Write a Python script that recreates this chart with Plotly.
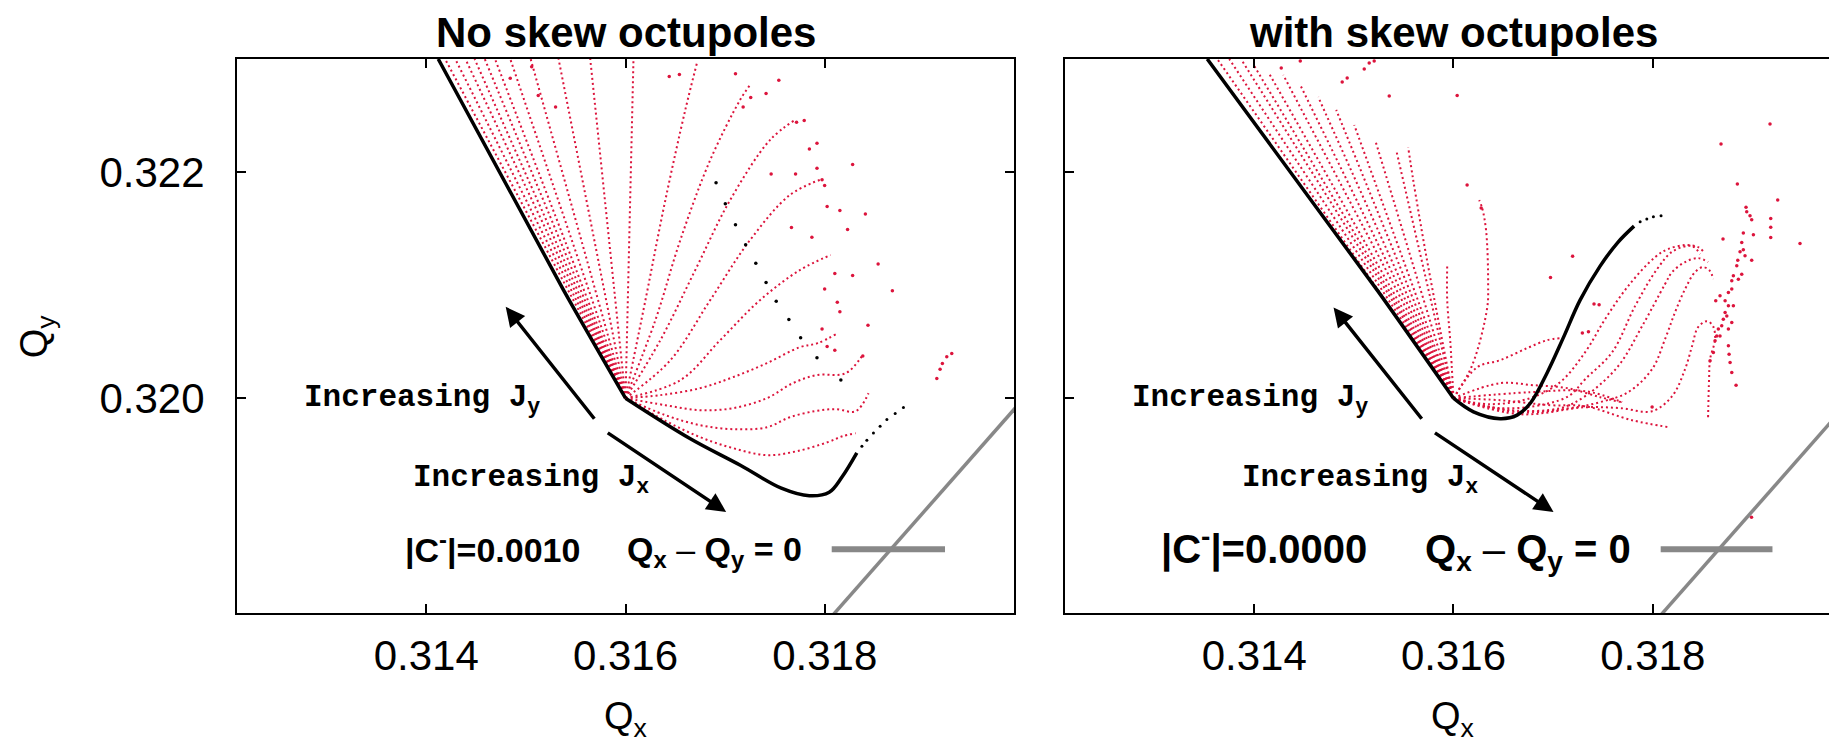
import plotly.graph_objects as go

# ---------------------------------------------------------------- data
RED = "#dc143c"
GRAY = "#888888"
CX, CY = 0.316, 0.320          # common origin of the footprint lines

x_ticks = [0.314, 0.316, 0.318]
y_ticks = [0.320, 0.322]
x_range = [0.3121, 0.3199]
x2_range = [0.3121, 0.31977]
y_range = [0.3181, 0.3230]

# resonance line Qx - Qy = 0
res_qx = [0.3180, 0.3206]
res_qy = [0.3180, 0.3206]

# ---- left panel: "No skew octupoles"
left_black_up_x = [0.31412, 0.315378, 0.316]
left_black_up_y = [0.3230, 0.320956, 0.320]
left_black_low_x = [0.316, 0.316642, 0.317153, 0.317564, 0.317845, 0.318045, 0.318175, 0.318322]
left_black_low_y = [0.320, 0.319646, 0.319407, 0.319204, 0.319137, 0.319168, 0.319305, 0.319516]
left_black_tail_x = [0.318373, 0.318423, 0.318489, 0.318556, 0.318624, 0.318707, 0.318790]
left_black_tail_y = [0.319575, 0.319628, 0.319693, 0.319752, 0.319812, 0.319865, 0.319918]
left_black_dots_x = [0.316909, 0.317002, 0.317104, 0.317206, 0.317308, 0.317411, 0.317513, 0.317640, 0.317758, 0.317922, 0.318162]
left_black_dots_y = [0.321905, 0.321719, 0.321535, 0.321357, 0.321194, 0.321024, 0.320858, 0.320696, 0.320534, 0.320358, 0.320161]

left_fan_end_x = [0.314189, 0.314291, 0.314393, 0.314485, 0.314587, 0.314690, 0.314843, 0.315048, 0.315328, 0.315646, 0.31608]
left_fan_end_y = [0.3230] * 11

left_curves_x = [
    [CX, 0.31620, 0.31640, 0.31660, 0.31672],
    [CX, 0.31630, 0.31655, 0.31685, 0.31715, 0.31725],
    [CX, 0.31635, 0.31670, 0.31705, 0.31745, 0.31770],
    [CX, 0.31645, 0.31685, 0.31725, 0.31765, 0.31795],
    [CX, 0.31655, 0.31695, 0.31735, 0.31775, 0.31806],
    [CX, 0.31635, 0.31675, 0.31708, 0.31742, 0.31775, 0.31793, 0.31813],
    [CX, 0.31640, 0.31675, 0.31708, 0.31742, 0.31768, 0.31792, 0.31821, 0.31838],
    [CX, 0.31640, 0.31675, 0.31708, 0.31742, 0.31765, 0.31790, 0.31811, 0.31831, 0.31844],
    [CX, 0.31640, 0.31675, 0.31708, 0.31742, 0.31772, 0.31803, 0.31818, 0.31831],
]
left_curves_y = [
    [CY, 0.320867, 0.321752, 0.322549, 0.322974],
    [CY, 0.32069, 0.321398, 0.322106, 0.322637, 0.32277],
    [CY, 0.320513, 0.321133, 0.321752, 0.322283, 0.32246],
    [CY, 0.320336, 0.320867, 0.321398, 0.321797, 0.32193],
    [CY, 0.320159, 0.320513, 0.320867, 0.321133, 0.321266],
    [CY, 0.320027, 0.320089, 0.320186, 0.32031, 0.320451, 0.320487, 0.320575],
    [CY, 0.319938, 0.319894, 0.319912, 0.320, 0.320133, 0.320204, 0.320221, 0.32038],
    [CY, 0.31985, 0.319761, 0.319726, 0.319743, 0.319832, 0.319885, 0.319903, 0.319885, 0.320044],
    [CY, 0.319800, 0.319655, 0.319558, 0.319496, 0.319531, 0.319611, 0.319664, 0.31969],
]

left_dots_x = [0.317104, 0.317539, 0.317411, 0.317257, 0.317181, 0.317462, 0.317707, 0.317922, 0.317973,
               0.317999, 0.318280, 0.317717, 0.317794, 0.317846, 0.317922, 0.318024, 0.318152, 0.318408,
               0.317666, 0.317871, 0.318229, 0.318536, 0.318101, 0.318280, 0.318679, 0.317999, 0.318126,
               0.318152, 0.318434, 0.317973, 0.318024, 0.318101, 0.318382, 0.314843, 0.315058, 0.315124,
               0.315298, 0.316439, 0.316541,
               0.319125, 0.319158, 0.319181, 0.319225, 0.319275]
left_dots_y = [0.322870, 0.322813, 0.322694, 0.322660, 0.322575, 0.321982, 0.321982, 0.322034, 0.321932,
               0.321882, 0.322067, 0.322440, 0.322457, 0.322203, 0.322254, 0.321695, 0.321661, 0.321628,
               0.321509, 0.321424, 0.321492, 0.321187, 0.321103, 0.321085, 0.320950, 0.320966, 0.320849,
               0.320764, 0.320645, 0.320612, 0.320458, 0.320425, 0.320374, 0.322829, 0.322931, 0.322677,
               0.322575, 0.322846, 0.322864,
               0.320174, 0.320257, 0.320307, 0.320366, 0.320396]

# ---- right panel: "with skew octupoles"
right_black_up_x = [0.313528, 0.315234, 0.316]
right_black_up_y = [0.3230, 0.320956, 0.320]
right_black_low_x = [0.316, 0.316201, 0.316469, 0.316639, 0.316775, 0.316937, 0.317101, 0.317271,
                     0.317472, 0.317653, 0.317813]
right_black_low_y = [0.320, 0.319879, 0.319819, 0.319850, 0.319960, 0.320219, 0.320531, 0.320867,
                     0.321168, 0.321381, 0.321522]
right_black_tail_x = [0.317874, 0.317941, 0.318007, 0.318084]
right_black_tail_y = [0.321560, 0.321584, 0.321604, 0.321613]

right_fan_end_x = [0.313629, 0.313749, 0.313880, 0.314000, 0.314141, 0.314291, 0.314462, 0.314642,
                   0.314823, 0.315004, 0.315214, 0.315425]
right_fan_end_y = [0.323000, 0.323000, 0.322982, 0.322938, 0.322885, 0.322859, 0.322770, 0.322664,
                   0.322549, 0.322416, 0.322283, 0.322195]

right_curves_x = [
    [CX, 0.315867, 0.315716, 0.315596, 0.315545],
    [CX, 0.315967, 0.315937, 0.315937],
    [CX, 0.316188, 0.316338, 0.316348, 0.316328, 0.316288, 0.316258],
    [CX, 0.316238, 0.316469, 0.316740, 0.316940, 0.317071],
    [CX, 0.316469, 0.316800, 0.317141, 0.317472, 0.317683],
    [CX, 0.316469, 0.316970, 0.317322, 0.317793, 0.318165],
    [CX, 0.316770, 0.317322, 0.317693],
    [CX, 0.316368, 0.316770, 0.317071, 0.317322, 0.317522, 0.317753, 0.318024, 0.318155, 0.318325, 0.318456, 0.318506],
    [CX, 0.316469, 0.316920, 0.317171, 0.317322, 0.317593, 0.317823, 0.318044, 0.318205, 0.318395, 0.318476],
    [CX, 0.316569, 0.317071, 0.317322, 0.317653, 0.317894, 0.318124, 0.318195, 0.318325, 0.318456, 0.318556],
    [CX, 0.316669, 0.317171, 0.317472, 0.317753, 0.317994, 0.318124, 0.318225, 0.318325, 0.318425, 0.318506, 0.318576, 0.318606],
    [CX, 0.316669, 0.317322, 0.317673, 0.317994, 0.318195, 0.318325, 0.318395, 0.318456, 0.318546, 0.318606, 0.318626, 0.318576, 0.318566, 0.318556],
]
right_curves_y = [
    [CY, 0.320602, 0.321310, 0.321929, 0.322221],
    [CY, 0.320513, 0.320867, 0.321168],
    [CY, 0.320292, 0.320797, 0.321000, 0.321478, 0.321682, 0.321752],
    [CY, 0.320274, 0.320336, 0.320443, 0.320513, 0.320531],
    [CY, 0.320133, 0.320115, 0.320089, 0.320009, 0.319965],
    [CY, 0.319982, 0.319938, 0.319929, 0.319805, 0.319743],
    [CY, 0.320053, 0.320062, 0.319965],
    [CY, 0.319947, 0.320000, 0.320142, 0.320407, 0.320699, 0.320991, 0.321248, 0.321319, 0.321354, 0.321336, 0.321301],
    [CY, 0.319912, 0.319947, 0.320027, 0.320168, 0.320407, 0.320814, 0.321142, 0.321301, 0.321345, 0.321274],
    [CY, 0.319894, 0.319912, 0.320018, 0.320283, 0.320637, 0.321009, 0.321115, 0.321204, 0.321239, 0.321204],
    [CY, 0.319876, 0.319912, 0.319965, 0.320053, 0.320257, 0.320522, 0.320761, 0.320965, 0.321115, 0.321159, 0.321124, 0.321053],
    [CY, 0.319858, 0.319920, 0.319912, 0.319885, 0.320018, 0.320257, 0.320460, 0.320628, 0.320681, 0.320637, 0.320522, 0.320345, 0.320168, 0.319832],
]

right_dots_x = [0.319178, 0.318686, 0.318850, 0.319255, 0.318937, 0.318944, 0.318977, 0.318994, 0.319185,
                0.319185, 0.319185, 0.319479, 0.318706, 0.318910, 0.319011, 0.318894, 0.318877, 0.318910,
                0.318927, 0.318854, 0.318844, 0.318994, 0.318894, 0.318794, 0.318810, 0.318860, 0.318794,
                0.318760, 0.318727, 0.318760, 0.318810, 0.318676, 0.318633, 0.318727, 0.318709, 0.318693,
                0.318659, 0.318676, 0.318643, 0.318760, 0.318794, 0.318744, 0.318626, 0.318609, 0.318576,
                0.318760, 0.318767, 0.318777, 0.318794, 0.318837, 0.317462, 0.317355, 0.317994, 0.318992,
                0.314271, 0.314462, 0.314883, 0.314933, 0.315104, 0.315154, 0.315204, 0.315355, 0.316037,
                0.316137, 0.316278, 0.317196, 0.316974, 0.317411, 0.317294]
right_dots_y = [0.322425, 0.322248, 0.321894, 0.321752, 0.321688, 0.321649, 0.321613, 0.321578, 0.321590,
                0.321511, 0.321422, 0.321369, 0.321407, 0.321460, 0.321445, 0.321378, 0.321295, 0.321312,
                0.321259, 0.321221, 0.321171, 0.321221, 0.321097, 0.321038, 0.321082, 0.321053, 0.320965,
                0.320935, 0.320861, 0.320817, 0.320817, 0.320905, 0.320861, 0.320758, 0.320699, 0.320640,
                0.320611, 0.320551, 0.320551, 0.320611, 0.320670, 0.320728, 0.320507, 0.320404, 0.320330,
                0.320463, 0.320389, 0.320316, 0.320227, 0.320115, 0.320826, 0.320587, 0.319923, 0.318947,
                0.322921, 0.322982, 0.322797, 0.322832, 0.322912, 0.322965, 0.322982, 0.322673, 0.322677,
                0.321885, 0.321682, 0.321255, 0.321068, 0.320832, 0.320577]

# ---------------------------------------------------------------- figure
SANS = "Liberation Sans, Arial, Helvetica, sans-serif"
MONO = "Liberation Mono, Courier New, monospace"
DOT = "2px,3px"

fig = go.Figure()


def add_panel(xa, ya, fan_x, fan_y, cx_list, cy_list, dots_x, dots_y,
              up_x, up_y, low_x, low_y, tail_x, tail_y, extra_black=None):
    for ex, ey in zip(fan_x, fan_y):
        fig.add_trace(go.Scatter(x=[CX, ex], y=[CY, ey], mode="lines", xaxis=xa, yaxis=ya,
                                 line=dict(color=RED, width=2, dash=DOT), hoverinfo="skip"))
    for xs, ys in zip(cx_list, cy_list):
        fig.add_trace(go.Scatter(x=xs, y=ys, mode="lines", xaxis=xa, yaxis=ya,
                                 line=dict(color=RED, width=2, dash=DOT, shape="spline"),
                                 hoverinfo="skip"))
    fig.add_trace(go.Scatter(x=dots_x, y=dots_y, mode="markers", xaxis=xa, yaxis=ya,
                             marker=dict(color=RED, size=3.5), hoverinfo="skip"))
    fig.add_trace(go.Scatter(x=res_qx, y=res_qy, mode="lines", xaxis=xa, yaxis=ya,
                             line=dict(color=GRAY, width=3.5), hoverinfo="skip"))
    fig.add_trace(go.Scatter(x=up_x, y=up_y, mode="lines", xaxis=xa, yaxis=ya,
                             line=dict(color="black", width=3.5, shape="spline", smoothing=0.6),
                             hoverinfo="skip"))
    fig.add_trace(go.Scatter(x=low_x, y=low_y, mode="lines", xaxis=xa, yaxis=ya,
                             line=dict(color="black", width=3.5, shape="spline"), hoverinfo="skip"))
    fig.add_trace(go.Scatter(x=tail_x, y=tail_y, mode="markers", xaxis=xa, yaxis=ya,
                             marker=dict(color="black", size=3), hoverinfo="skip"))
    if extra_black is not None:
        fig.add_trace(go.Scatter(x=extra_black[0], y=extra_black[1], mode="markers", xaxis=xa, yaxis=ya,
                                 marker=dict(color="black", size=3.5), hoverinfo="skip"))


add_panel("x", "y", left_fan_end_x, left_fan_end_y, left_curves_x, left_curves_y,
          left_dots_x, left_dots_y, left_black_up_x, left_black_up_y, left_black_low_x, left_black_low_y,
          left_black_tail_x, left_black_tail_y, extra_black=(left_black_dots_x, left_black_dots_y))
add_panel("x2", "y2", right_fan_end_x, right_fan_end_y, right_curves_x, right_curves_y,
          right_dots_x, right_dots_y, right_black_up_x, right_black_up_y, right_black_low_x, right_black_low_y,
          right_black_tail_x, right_black_tail_y)

axis_common = dict(showgrid=False, zeroline=False, showline=True, linecolor="black", linewidth=2,
                   ticks="inside", ticklen=9, tickwidth=1.5, tickcolor="black",
                   tickfont=dict(family=SANS, size=42, color="black"), tickformat=".3f")

fig.update_layout(
    width=1829, height=743, autosize=False,
    margin=dict(l=237, r=0, t=59, b=130),
    paper_bgcolor="white", plot_bgcolor="white", showlegend=False,
    xaxis=dict(domain=[0, 0.48807], range=x_range, tickvals=x_ticks, mirror="ticks",
               ticklabelstandoff=5, anchor="y", **axis_common),
    yaxis=dict(domain=[0, 1], range=y_range, tickvals=y_ticks, mirror="ticks",
               ticklabelstandoff=22, anchor="x", **axis_common),
    xaxis2=dict(domain=[0.52010, 1], range=x2_range, tickvals=x_ticks, mirror="ticks",
                ticklabelstandoff=5, anchor="y2", **axis_common),
    yaxis2=dict(domain=[0, 1], range=y_range, tickvals=y_ticks, mirror=False,
                showticklabels=False, anchor="x2", **axis_common),
)

ann = []
for xr in ("x", "x2"):
    ttl = "<b>No skew octupoles</b>" if xr == "x" else "<b>with skew octupoles</b>"
    ann.append(dict(text=ttl, xref=xr, yref="paper", x=0.316, y=1.0486, xanchor="center",
                    yanchor="middle", showarrow=False, font=dict(family=SANS, size=42, color="black")))
    ann.append(dict(text="Q<sub>x</sub>", xref=xr, yref="paper", x=0.316, y=-0.1915, xanchor="center",
                    yanchor="middle", showarrow=False, font=dict(family=SANS, size=38, color="black")))

ann.append(dict(text="Q<sub>y</sub>", xref="paper", yref="paper", x=-0.1254, y=0.5, textangle=-90,
                xanchor="center", yanchor="middle", showarrow=False,
                font=dict(family=SANS, size=38, color="black")))

panels = [
    ("x", "y", "x domain", "y domain", 0.0837, 0.2239, 0.2140, 34, 0.4994, "|C<sup>-</sup>|=0.0010",
     0.1184, 0.1103, (0.7654, 0.9112)),
    ("x2", "y2", "x2 domain", "y2 domain", 0.0847, 0.2287, 0.1230, 40, 0.4686, "|C<sup>-</sup>|=0.0000",
     0.1199, 0.1105, (0.7797, 0.9260)),
]
arrows = {
    "x": [(0.314797, 0.320808, 0.315699, 0.319805), (0.317010, 0.318994, 0.315807, 0.319702)],
    "x2": [(0.314796, 0.320803, 0.315693, 0.319805), (0.317004, 0.318994, 0.315799, 0.319702)],
}
shapes = []
for (xr, yr, xd, yd, jy_x, jx_x, c_x, c_size, q_x, c_txt, c_y, q_y, seg) in panels:
    ann.append(dict(text="Increasing J<sub>y</sub>", xref=xd, yref=yd, x=jy_x, y=0.3845,
                    xanchor="left", yanchor="middle", showarrow=False,
                    font=dict(family=MONO, size=31, color="black", weight="bold")))
    ann.append(dict(text="Increasing J<sub>x</sub>", xref=xd, yref=yd, x=jx_x, y=0.2394,
                    xanchor="left", yanchor="middle", showarrow=False,
                    font=dict(family=MONO, size=31, color="black", weight="bold")))
    ann.append(dict(text="<b>" + c_txt + "</b>", xref=xd, yref=yd, x=c_x, y=c_y,
                    xanchor="left", yanchor="middle", showarrow=False,
                    font=dict(family=SANS, size=c_size, color="black")))
    ann.append(dict(text="<b>Q<sub>x</sub></b> \u2013 <b>Q<sub>y</sub> = 0</b>", xref=xd, yref=yd, x=q_x, y=q_y,
                    xanchor="left", yanchor="middle", showarrow=False,
                    font=dict(family=SANS, size=c_size, color="black")))
    shapes.append(dict(type="line", xref=xd, yref=yd, x0=seg[0], x1=seg[1], y0=0.115, y1=0.115,
                       line=dict(color=GRAY, width=6)))
    for (hx, hy, tx, ty) in arrows[xr]:
        ann.append(dict(text="", x=hx, y=hy, ax=tx, ay=ty, xref=xr, yref=yr, axref=xr, ayref=yr,
                        showarrow=True, arrowhead=2, arrowsize=1.1, arrowwidth=3.5,
                        arrowcolor="black", standoff=0, startstandoff=0))

fig.update_layout(annotations=ann, shapes=shapes)
fig.write_html("out.html")
